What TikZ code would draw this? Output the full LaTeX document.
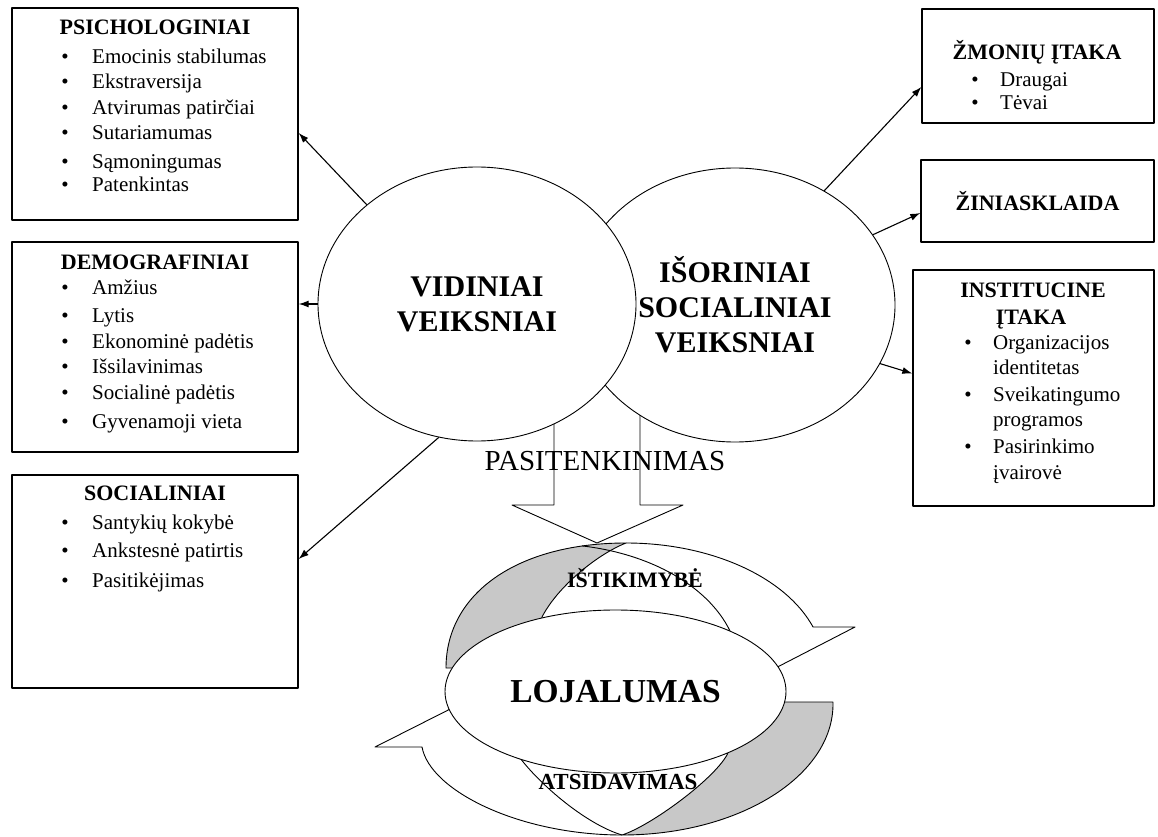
\documentclass[tikz,border=0pt]{standalone}
\usepackage{fontspec}
\setmainfont{Liberation Serif}
\usepackage{tikz}
\usetikzlibrary{shapes.geometric,arrows.meta}
\definecolor{foldgray}{RGB}{200,200,200}

\begin{document}
\begin{tikzpicture}[x=1pt,y=1pt,line join=round,
  factor/.style={draw,line width=1.4pt,inner sep=0pt},
  hub/.style={ellipse,draw,line width=0.9pt,fill=white,inner sep=0pt,align=center,font=\bfseries\fontsize{30}{35}\selectfont},
  ribbon/.style={draw,line width=0.9pt},
  link/.style={line width=1.1pt,-{Latex[length=10pt,width=7pt]}},
  head/.style={inner sep=0pt,text height=15pt,text depth=0pt,font=\bfseries\fontsize{22}{25}\selectfont},
  item/.style={inner sep=0pt,anchor=west,text height=14pt,text depth=0pt,font=\fontsize{21}{25}\selectfont},
  dot/.style={inner sep=0pt,text height=14pt,text depth=0pt,font=\fontsize{21}{25}\selectfont}]
  \useasboundingbox (0,0) rectangle (1158,836);

  % left column: the inner factors
  \node[factor,minimum width=286pt,minimum height=212pt] (psych) at (155,722) {};
  \node[head] (psych-t) at (155,809) {PSICHOLOGINIAI};
  \foreach \txt/\yy [count=\i] in {Emocinis stabilumas/779,Ekstraversija/754,Atvirumas patirčiai/728,Sutariamumas/703,Sąmoningumas/674,Patenkintas/651}{
    \node[dot] (psych-b\i) at (65,\yy) {\textbullet};
    \node[item] (psych-\i) at (92,\yy) {\txt};}

  \node[factor,minimum width=286pt,minimum height=210pt] (demo) at (155,489) {};
  \node[head] (demo-t) at (155,574) {DEMOGRAFINIAI};
  \foreach \txt/\yy [count=\i] in {Amžius/548,Lytis/520,Ekonominė padėtis/494,Išsilavinimas/469,Socialinė padėtis/443,Gyvenamoji vieta/414}{
    \node[dot] (demo-b\i) at (65,\yy) {\textbullet};
    \node[item] (demo-\i) at (92,\yy) {\txt};}

  \node[factor,minimum width=286pt,minimum height=213pt] (soc) at (155,254.5) {};
  \node[head] (soc-t) at (155,343) {SOCIALINIAI};
  \foreach \txt/\yy [count=\i] in {Santykių kokybė/314,Ankstesnė patirtis/286,Pasitikėjimas/256}{
    \node[dot] (soc-b\i) at (65,\yy) {\textbullet};
    \node[item] (soc-\i) at (92,\yy) {\txt};}

  % right column: the outer social factors
  \node[factor,minimum width=232pt,minimum height=114pt] (zmon) at (1038,770) {};
  \node[head] (zmon-t) at (1037,784) {ŽMONIŲ ĮTAKA};
  \foreach \txt/\yy [count=\i] in {Draugai/756,Tėvai/733}{
    \node[dot] (zmon-b\i) at (975,\yy) {\textbullet};
    \node[item] (zmon-\i) at (1000,\yy) {\txt};}

  \node[factor,minimum width=233pt,minimum height=82pt] (zinia) at (1037.5,635) {};
  \node[head] (zinia-t) at (1037.5,633) {ŽINIASKLAIDA};

  \node[factor,minimum width=241pt,minimum height=236pt] (inst) at (1033.5,448) {};
  \node[head] (inst-t1) at (1033,546) {INSTITUCINE};
  \node[head] (inst-t2) at (1031,519) {ĮTAKA};
  \foreach \txt/\yy [count=\i] in {Organizacijos/493,Sveikatingumo/441,Pasirinkimo/389}{
    \node[dot] (inst-b\i) at (968,\yy) {\textbullet};
    \node[item] (inst-\i) at (993,\yy) {\txt};}
  \foreach \txt/\yy [count=\i] in {identitetas/468,programos/416,įvairovė/364}{
    \node[item] (inst-c\i) at (993,\yy) {\txt};}

  % the wide arrow down to loyalty, half hidden by the two ellipses
  \draw[line width=0.9pt,fill=white] (554,440) -- (554,331) -- (512,331) -- (597,293) -- (683,331) -- (640,331) -- (640,440);

  \node[hub,minimum width=320pt,minimum height=274pt] (iso) at (735,531) {IŠORINIAI\\SOCIALINIAI\\VEIKSNIAI};
  \node[hub,minimum width=318pt,minimum height=274pt] (vid) at (477,532) {VIDINIAI\\VEIKSNIAI};

  \draw[link] (vid.138) -- ([yshift=-19pt]psych.east);
  \draw[link] (vid.west) -- (vid.west -| demo.east);
  \draw[link] (vid.254) -- ([yshift=22.5pt]soc.east);
  \draw[link] (iso.52) -- ([yshift=-21pt]zmon.west);
  \draw[link] (iso.27) -- ([yshift=-12pt]zinia.west);
  \draw[link] (iso.-22) -- ([yshift=14.5pt]inst.west);

  \node[inner sep=0pt,font=\fontsize{29}{33}\selectfont] (pasit) at (605,375) {PASITENKINIMAS};

  % upper ribbon arrow, shaded fold on the left
  \filldraw[ribbon,fill=foldgray] (446,168) .. controls (446,243) and (518,293) .. (626,293)
    .. controls (598,282) and (558,250) .. (542,219) -- (534,168) -- cycle;
  \draw[ribbon] (626,293) arc[start angle=90,end angle=19.15,x radius=198,y radius=125] -- (855,209) -- (760,160);
  \draw[ribbon] (549,167) ++(80:190 and 125) arc[start angle=80,end angle=5,x radius=190,y radius=125];

  % lower ribbon arrow, shaded fold on the right
  \filldraw[ribbon,fill=foldgray] (750,134) -- (833,134) -- (833,132) arc[start angle=0,end angle=-90,x radius=211,y radius=131]
    .. controls (650,10) and (712,55) .. (727,81) -- (740,115) -- cycle;
  \draw[ribbon] (622,1) .. controls (520,1) and (430,45) .. (422,89) -- (375,89) -- (470,137);
  \draw[ribbon] (505,100) -- (515,85) .. controls (535,55) and (585,12) .. (622,1);

  \node[hub,minimum width=341pt,minimum height=163pt,font=\bfseries\fontsize{33.5}{38}\selectfont] (loj) at (615.5,144.5) {LOJALUMAS};
  \node[head] (istik) at (635,256) {IŠTIKIMYBĖ};
  \node[head,font=\bfseries\fontsize{23}{26}\selectfont] (atsid) at (618,54) {ATSIDAVIMAS};
\end{tikzpicture}
\end{document}
